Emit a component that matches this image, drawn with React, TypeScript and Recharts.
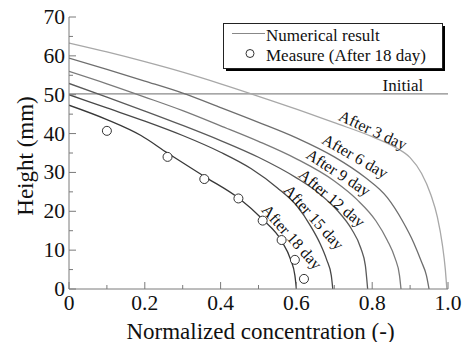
import React from "react";
import { LineChart, Line, XAxis, YAxis, ReferenceDot, Label } from "recharts";

// axis ticks
const xTicks = [0, 0.1, 0.2, 0.3, 0.4, 0.5, 0.6, 0.7, 0.8, 0.9, 1.0];
const yTicks = [0, 5, 10, 15, 20, 25, 30, 35, 40, 45, 50, 55, 60, 65, 70];

// numerical result curves (normalized concentration, height mm)
const day3C = [0, 0.1, 0.2, 0.3, 0.4, 0.5, 0.6, 0.7, 0.8, 0.86, 0.9, 0.93, 0.955, 0.972, 0.985, 0.993, 0.997];
const day3H = [63.3, 61.0, 58.5, 55.8, 52.8, 49.6, 46.3, 42.8, 39.2, 36.5, 33.8, 29.8, 24.2, 18.5, 11.5, 5.0, 0];
const day6C = [0, 0.1, 0.2, 0.3, 0.4, 0.5, 0.6, 0.7, 0.78, 0.84, 0.88, 0.91, 0.93, 0.943, 0.95];
const day6H = [59.4, 56.5, 53.5, 50.4, 46.7, 42.9, 38.9, 34.0, 28.8, 23.5, 17.5, 11.8, 7.0, 3.5, 0];
const day9C = [0, 0.1, 0.2, 0.3, 0.4, 0.5, 0.6, 0.7, 0.76, 0.81, 0.84, 0.86, 0.872, 0.876];
const day9H = [56.0, 52.8, 49.4, 45.9, 42.0, 38.0, 33.5, 27.8, 23.0, 17.5, 12.5, 8.0, 3.5, 0];
const day12C = [0, 0.1, 0.2, 0.3, 0.4, 0.5, 0.6, 0.66, 0.71, 0.745, 0.77, 0.782, 0.788];
const day12H = [52.9, 49.4, 45.8, 42.1, 38.2, 33.9, 28.6, 24.6, 20.0, 15.5, 10.5, 6.0, 0];
const day15C = [0, 0.1, 0.2, 0.3, 0.4, 0.48, 0.55, 0.6, 0.64, 0.662, 0.68, 0.692, 0.696];
const day15H = [50.0, 46.6, 43.2, 39.5, 35.2, 31.0, 26.0, 21.5, 15.8, 11.8, 7.5, 3.5, 0];
const day18C = [0, 0.1, 0.19, 0.26, 0.36, 0.45, 0.51, 0.56, 0.585, 0.596, 0.6];
const day18H = [47.3, 43.6, 39.5, 35.0, 28.8, 23.2, 18.0, 12.5, 7.5, 3.5, 0];
const initialC = [0, 1];
const initialH = [50.2, 50.2];

// measured after 18 day
const measureC = [0.1, 0.26, 0.357, 0.447, 0.511, 0.561, 0.596, 0.62];
const measureH = [40.7, 34.0, 28.3, 23.3, 17.6, 12.6, 7.5, 2.6];

const curveNames = ["After 3 day", "After 6 day", "After 9 day", "After 12 day", "After 15 day", "After 18 day"];

const toPoints = (c: number[], h: number[]) => c.map((v, i) => ({ c: v, h: h[i] }));

const FONT = "Liberation Serif, DejaVu Serif, serif";
const FRAME = "#7a7a7a";
const INK = "#111";

const curves = [
  { name: curveNames[0], data: toPoints(day3C, day3H), color: "#a8a8a8" },
  { name: curveNames[1], data: toPoints(day6C, day6H), color: "#6e6e6e" },
  { name: curveNames[2], data: toPoints(day9C, day9H), color: "#7a7a7a" },
  { name: curveNames[3], data: toPoints(day12C, day12H), color: "#5a5a5a" },
  { name: curveNames[4], data: toPoints(day15C, day15H), color: "#484848" },
  { name: curveNames[5], data: toPoints(day18C, day18H), color: "#383838" },
];

// where the rotated curve labels sit (data coords) and their angle
const labelSpots = [
  { c: 0.802, h: 40.9, angle: 25 },
  { c: 0.755, h: 34.2, angle: 30 },
  { c: 0.711, h: 30.0, angle: 33 },
  { c: 0.694, h: 23.4, angle: 40 },
  { c: 0.646, h: 18.5, angle: 48 },
  { c: 0.588, h: 13.4, angle: 48 },
];

const isMajorX = (v: number) => Math.round(v * 10) % 2 === 0;
const isMajorY = (v: number) => Math.round(v) % 10 === 0;

const txt = (size: number) => ({ fontSize: size, fontFamily: FONT, fill: INK });

const BottomTick = ({ x, y, payload }: any) => {
  const v = payload.value;
  const major = isMajorX(v);
  return (
    <g>
      <line x1={x} x2={x} y1={y} y2={y - (major ? 7 : 4)} stroke={FRAME} />
      {major && (
        <text x={x} y={y + 14} textAnchor="middle" dominantBaseline="central" style={txt(21.5)}>
          {v === 0 ? "0" : v.toFixed(1)}
        </text>
      )}
    </g>
  );
};

const TopTick = ({ x, y, payload }: any) => (
  <line x1={x} x2={x} y1={y} y2={y + (isMajorX(payload.value) ? 7 : 4)} stroke={FRAME} />
);

const LeftTick = ({ x, y, payload }: any) => {
  const v = payload.value;
  const major = isMajorY(v);
  return (
    <g>
      <line x1={x} x2={x + (major ? 7 : 4)} y1={y} y2={y} stroke={FRAME} />
      {major && (
        <text x={x - 4} y={y} textAnchor="end" dominantBaseline="central" style={txt(21.5)}>
          {v}
        </text>
      )}
    </g>
  );
};

const RightTick = ({ x, y, payload }: any) => (
  <line x1={x} x2={x - (isMajorY(payload.value) ? 7 : 4)} y1={y} y2={y} stroke={FRAME} />
);

const XTitle = ({ viewBox }: any) => (
  <text x={viewBox.x + viewBox.width / 2 + 2} y={viewBox.y + 42} textAnchor="middle" dominantBaseline="central" style={txt(23)}>
    Normalized concentration (-)
  </text>
);

const YTitle = ({ viewBox }: any) => {
  const cx = viewBox.x + 25;
  const cy = viewBox.y + viewBox.height / 2 + 3;
  return (
    <text x={cx} y={cy} transform={`rotate(-90 ${cx} ${cy})`} textAnchor="middle" dominantBaseline="central" style={txt(23)}>
      Height (mm)
    </text>
  );
};

function LegendBox() {
  return (
    <svg width={465} height={342} style={{ position: "absolute", left: 0, top: 0, pointerEvents: "none" }}>
      <rect x={226} y={26} width={219} height={45} fill="#000" />
      <rect x={223.5} y={23.5} width={219} height={45} fill="#fff" stroke="#222" />
      <line x1={232} x2={265} y1={33.5} y2={33.5} stroke="#888" />
      <text x={266} y={35.5} dominantBaseline="central" style={txt(17)}>
        Numerical result
      </text>
      <circle cx={250} cy={53.5} r={4} fill="#fff" stroke="#333" />
      <text x={266} y={55.5} dominantBaseline="central" style={txt(17)}>
        Measure (After 18 day)
      </text>
    </svg>
  );
}

export default function App() {
  return (
    <div style={{ position: "relative", width: 465, height: 342, fontFamily: FONT }}>
      <style>{"body{margin:0}"}</style>
      <LineChart width={465} height={342} margin={{ top: 17, right: 17, bottom: 0, left: 0 }}>
        <XAxis
          type="number"
          dataKey="c"
          domain={[0, 1]}
          ticks={xTicks}
          interval={0}
          allowDataOverflow
          height={53}
          tickSize={0}
          tickMargin={0}
          tickLine={false}
          axisLine={{ stroke: FRAME }}
          tick={(p: any) => <BottomTick {...p} />}
        >
          <Label content={XTitle} />
        </XAxis>
        <XAxis
          xAxisId="top"
          orientation="top"
          type="number"
          domain={[0, 1]}
          ticks={xTicks}
          interval={0}
          allowDataOverflow
          height={0}
          tickSize={0}
          tickMargin={0}
          tickLine={false}
          axisLine={{ stroke: FRAME }}
          tick={(p: any) => <TopTick {...p} />}
        />
        <YAxis
          type="number"
          domain={[0, 70]}
          ticks={yTicks}
          interval={0}
          allowDataOverflow
          width={69}
          tickSize={0}
          tickMargin={0}
          tickLine={false}
          axisLine={{ stroke: FRAME }}
          tick={(p: any) => <LeftTick {...p} />}
        >
          <Label content={YTitle} />
        </YAxis>
        <YAxis
          yAxisId="right"
          orientation="right"
          type="number"
          domain={[0, 70]}
          ticks={yTicks}
          interval={0}
          allowDataOverflow
          width={0}
          tickSize={0}
          tickMargin={0}
          tickLine={false}
          axisLine={{ stroke: FRAME }}
          tick={(p: any) => <RightTick {...p} />}
        />

        <Line
          data={toPoints(initialC, initialH)}
          dataKey="h"
          type="linear"
          stroke="#8a8a8a"
          strokeWidth={1.2}
          dot={false}
          activeDot={false}
          isAnimationActive={false}
        />
        {curves.map((cv) => (
          <Line
            key={cv.name}
            name={cv.name}
            data={cv.data}
            dataKey="h"
            type="monotone"
            stroke={cv.color}
            strokeWidth={1.3}
            dot={false}
            activeDot={false}
            isAnimationActive={false}
          />
        ))}
        <Line
          name="Measure (After 18 day)"
          data={toPoints(measureC, measureH)}
          dataKey="h"
          stroke="none"
          dot={{ r: 4.5, fill: "#fff", stroke: "#333", strokeWidth: 1 }}
          activeDot={false}
          isAnimationActive={false}
        />

        {curves.map((cv, i) => (
          <ReferenceDot
            key={"lbl-" + cv.name}
            x={labelSpots[i].c}
            y={labelSpots[i].h}
            ifOverflow="visible"
            shape={(p: any) => (
              <text
                x={p.cx}
                y={p.cy}
                transform={`rotate(${labelSpots[i].angle} ${p.cx} ${p.cy})`}
                textAnchor="middle"
                dominantBaseline="central"
                style={txt(16)}
              >
                {cv.name}
              </text>
            )}
          />
        ))}
        <ReferenceDot
          x={0.881}
          y={52.5}
          ifOverflow="visible"
          shape={(p: any) => (
            <text x={p.cx} y={p.cy} textAnchor="middle" dominantBaseline="central" style={txt(17)}>
              Initial
            </text>
          )}
        />
      </LineChart>
      <LegendBox />
    </div>
  );
}
